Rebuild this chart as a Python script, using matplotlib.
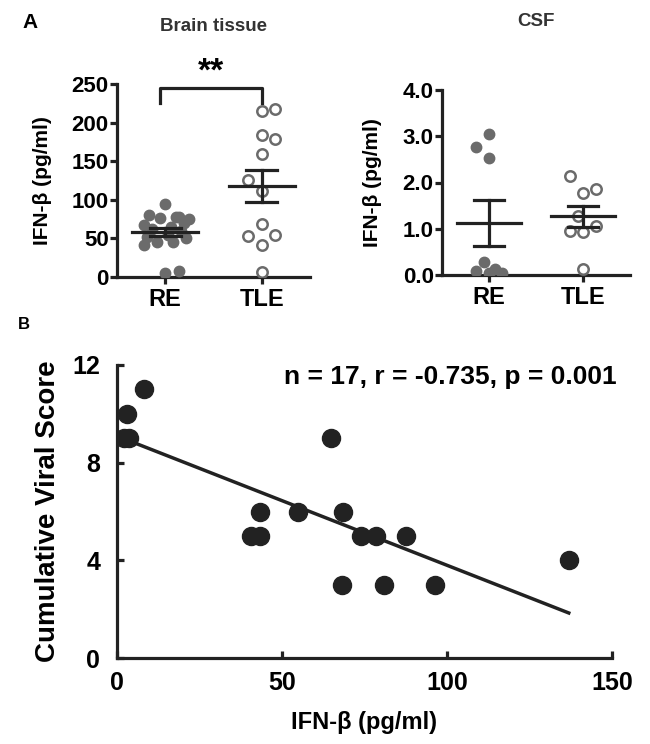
import numpy as np
import matplotlib
matplotlib.use("Agg")
import matplotlib.pyplot as plt

plt.rcParams['font.family'] = ['Liberation Sans', 'DejaVu Sans']
plt.rcParams['font.weight'] = 'bold'
plt.rcParams['axes.labelweight'] = 'bold'

groups = ['RE', 'TLE']

# Panel A, brain tissue IFN-b (pg/ml)
brain_re = [95, 80, 78, 77, 75, 78, 70, 68, 65, 62, 60, 55, 52, 50, 45, 45, 42, 5, 8]
brain_tle = [215, 217, 184, 179, 159, 126, 111, 69, 53, 55, 42, 7]
brain_re_x = [0.0, -0.3, 0.2, -0.1, 0.45, 0.25, 0.35, -0.4, 0.1, -0.25, 0.3, 0.05, -0.35, 0.4, -0.15, 0.15, -0.4, 0.0, 0.25]
brain_tle_x = [0.0, 0.25, 0.0, 0.25, 0.0, -0.25, 0.0, 0.0, -0.25, 0.25, 0.0, 0.0]

# Panel A, CSF IFN-b (pg/ml)
csf_re = [2.77, 3.05, 2.54, 0.29, 0.09, 0.04, 0.14, 0.05]
csf_tle = [2.13, 1.78, 1.87, 1.28, 0.96, 0.94, 1.06, 0.14]
csf_re_x = [-0.25, 0.0, 0.0, -0.1, -0.25, 0.0, 0.12, 0.25]
csf_tle_x = [-0.25, 0.0, 0.25, -0.1, -0.25, 0.0, 0.25, 0.0]

# Panel B, IFN-b vs cumulative viral score
ifn = [8.2, 3.1, 2.0, 3.5, 64.8, 43.4, 54.7, 68.6, 40.5, 43.4, 74.0, 78.6, 87.7, 136.9, 68.2, 80.8, 96.5]
score = [11, 10, 9, 9, 9, 6, 6, 6, 5, 5, 5, 5, 5, 4, 3, 3, 3]

dark = '#222222'
grey = '#6b6b6b'

fig = plt.figure(figsize=(6.5, 7.44), dpi=100)


def style_axes(ax):
    for s in ['top', 'right']:
        ax.spines[s].set_visible(False)
    for s in ['left', 'bottom']:
        ax.spines[s].set_linewidth(2.3)
        ax.spines[s].set_color(dark)
    ax.tick_params(width=2.3, color=dark, length=5)


def mean_sem(ax, pos, vals):
    v = np.array(vals)
    m = v.mean()
    se = v.std(ddof=1) / np.sqrt(len(v))
    ax.plot([pos - 0.34, pos + 0.34], [m, m], color=dark, lw=2.3, zorder=4)
    ax.plot([pos, pos], [m - se, m + se], color=dark, lw=2.3, zorder=4)
    for y in [m - se, m + se]:
        ax.plot([pos - 0.16, pos + 0.16], [y, y], color=dark, lw=2.3, zorder=4)


def dot_panel(ax, re, tle, re_x, tle_x):
    ax.plot(np.array(re_x) * 0.55, re, 'o', ms=7.5, color=grey, mec=grey, zorder=3)
    ax.plot(1 + np.array(tle_x) * 0.55, tle, 'o', ms=7.5, mfc='white', mec=grey, mew=1.8, zorder=3)
    mean_sem(ax, 0, re)
    mean_sem(ax, 1, tle)
    ax.set_xticks([0, 1])
    ax.set_xticklabels(groups, fontsize=17)
    ax.set_xlim(-0.5, 1.5)
    ax.tick_params(axis='y', labelsize=16, pad=1)
    ax.tick_params(axis='x', pad=3)
    style_axes(ax)


# brain tissue
ax1 = fig.add_axes([117 / 650, 1 - 277 / 744, 193 / 650, 193 / 744])
dot_panel(ax1, brain_re, brain_tle, brain_re_x, brain_tle_x)
ax1.set_ylim(0, 250)
ax1.set_yticks([0, 50, 100, 150, 200, 250])
ax1.set_ylabel('IFN-β (pg/ml)', fontsize=15, labelpad=14)
ax1.set_title('Brain tissue', fontsize=13.5, fontweight='bold', pad=38, color='#333333')
ax1.plot([-0.05, -0.05, 1, 1], [226, 245, 245, 226], color=dark, lw=2.3, clip_on=False)
ax1.text(0.47, 266, '**', ha='center', va='center', fontsize=24, clip_on=False)

# CSF
ax2 = fig.add_axes([442 / 650, 1 - 275 / 744, 188 / 650, 185 / 744])
dot_panel(ax2, csf_re, csf_tle, csf_re_x, csf_tle_x)
ax2.set_ylim(0, 4)
ax2.set_yticks([0, 1, 2, 3, 4])
ax2.set_yticklabels(['0.0', '1.0', '2.0', '3.0', '4.0'])
ax2.set_ylabel('IFN-β (pg/ml)', fontsize=15, labelpad=15)
ax2.set_title('CSF', fontsize=13.5, fontweight='bold', pad=46, color='#333333')

# panel B
ax3 = fig.add_axes([117 / 650, 1 - 658 / 744, 495 / 650, 293 / 744])
ax3.plot(ifn, score, 'o', ms=13, color=dark, zorder=3)
k, b = np.polyfit(ifn, score, 1)
xs = np.array([min(ifn), max(ifn)])
ax3.plot(xs, k * xs + b, color=dark, lw=2.5)
ax3.set_xlim(0, 150)
ax3.set_ylim(0, 12)
ax3.set_xticks([0, 50, 100, 150])
ax3.set_yticks([0, 4, 8, 12])
style_axes(ax3)
ax3.tick_params(direction='in', labelsize=18)
ax3.tick_params(axis='x', pad=9)
ax3.tick_params(axis='y', pad=12)
ax3.set_ylabel('Cumulative Viral Score', fontsize=20, labelpad=8)
ax3.set_xlabel('IFN-β (pg/ml)', fontsize=17, labelpad=12)
ax3.text(1.01, 0.96, 'n = 17, r = -0.735, p = 0.001', transform=ax3.transAxes,
         ha='right', va='center', fontsize=19)

fig.text(22 / 650, 1 - 22 / 744, 'A', fontsize=15, va='center')
fig.text(18 / 650, 1 - 324 / 744, 'B', fontsize=12, va='center')

fig.savefig('out.png', dpi=100, facecolor='white')
